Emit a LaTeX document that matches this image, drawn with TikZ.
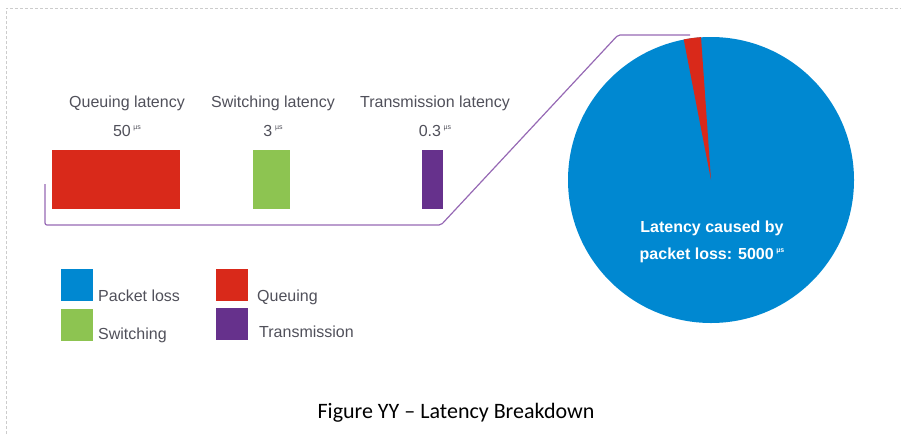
\documentclass[tikz,border=0pt]{standalone}
\usepackage{fontspec}
\setmainfont{Liberation Sans}
\newfontfamily\captionfont{Carlito}
\definecolor{lossblue}{RGB}{0,136,209}
\definecolor{queuered}{RGB}{217,41,26}
\definecolor{switchgreen}{RGB}{141,196,81}
\definecolor{transpurple}{RGB}{102,49,140}
\definecolor{zoomline}{RGB}{150,105,180}
\definecolor{labelgray}{RGB}{80,80,90}
\newcommand{\micro}{\,\raisebox{0.75ex}{\fontsize{7}{7}\selectfont µs}}

\begin{document}
\begin{tikzpicture}[x=1pt, y=-1pt,
    lbl/.style={text=labelgray, font=\fontsize{16}{18}\selectfont, inner sep=0pt, anchor=base},
    bar/.style={minimum height=59pt, inner sep=0pt},
    key/.style={minimum size=32pt, inner sep=0pt}]
    \useasboundingbox (0,0) rectangle (901,434);
    % Frame
    \draw[gray!40, dash pattern=on 3pt off 2pt] (6,434) -- (6,8) -- (901,8);
    % Zoom line
    \draw[zoomline, line width=1.2pt, rounded corners=2pt] (45,184) -- (45,225) -- (441,225) -- (618,35) -- (690,35);
    % Bars
    \node[bar, fill=queuered, minimum width=128pt] (qbar) at (116,179.5) {};
    \node[bar, fill=switchgreen, minimum width=37pt] (sbar) at (271.5,179.5) {};
    \node[bar, fill=transpurple, minimum width=21pt] (tbar) at (432.5,179.5) {};
    % Bar labels
    \node[lbl] (qlabel) at (127,107) {Queuing latency};
    \node[lbl] (slabel) at (273,107) {Switching latency};
    \node[lbl] (tlabel) at (435,107) {Transmission latency};
    \node[lbl] (qvalue) at (127,136) {50\micro};
    \node[lbl] (svalue) at (273,136) {3\micro};
    \node[lbl] (tvalue) at (435,136) {0.3\micro};
    % Pie
    \node[circle, fill=lossblue, minimum size=286pt, inner sep=0pt] (pie) at (711,180) {};
    \fill[queuered] (pie.center) -- (pie.94) arc[start angle=94, end angle=101, radius=143pt] -- cycle;
    \node[text=white, font=\bfseries\fontsize{16}{27}\selectfont, align=center, anchor=base, inner sep=0pt] (pietext) at (712,259) {Latency caused by\\packet loss: 5000\micro};
    % Legend
    \node[key, fill=lossblue] (losskey) at (77,285) {};
    \node[key, fill=switchgreen] (switchkey) at (77,324.5) {};
    \node[key, fill=queuered] (queuekey) at (232,285) {};
    \node[key, fill=transpurple] (transkey) at (232,324) {};
    \node[lbl, anchor=base west] (losstext) at (98,301) {Packet loss};
    \node[lbl, anchor=base west] (switchtext) at (98,339) {Switching};
    \node[lbl, anchor=base west] (queuetext) at (257,301) {Queuing};
    \node[lbl, anchor=base west] (transtext) at (259,337) {Transmission};
    % Caption
    \node[anchor=base, font=\captionfont\fontsize{22}{26}\selectfont, inner sep=0pt] (caption) at (456,418) {Figure YY – Latency Breakdown};
\end{tikzpicture}
\end{document}
